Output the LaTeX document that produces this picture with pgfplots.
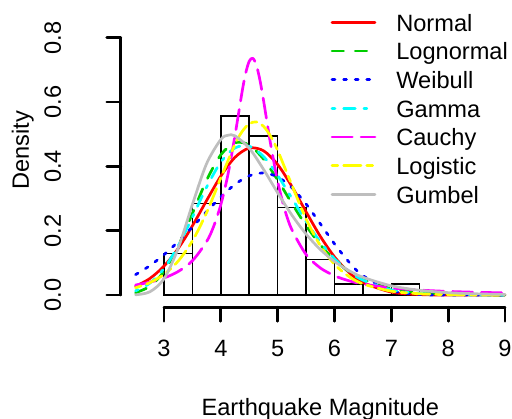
\documentclass[border=0pt]{standalone}
\usepackage{fontspec}
\setmainfont{Liberation Sans}
\usepackage{pgfplots}
\pgfplotsset{compat=1.18}
\definecolor{rred}{RGB}{255,0,0}
\definecolor{rgreen}{RGB}{0,205,0}
\definecolor{rblue}{RGB}{0,0,255}
\definecolor{rcyan}{RGB}{0,255,255}
\definecolor{rmagenta}{RGB}{255,0,255}
\definecolor{ryellow}{RGB}{255,255,0}
\definecolor{rgray}{RGB}{190,190,190}
\tikzset{
  rline/.style={line width=2.7bp, line cap=round, line join=round},
}
\begin{document}
\begin{tikzpicture}[font=\fontsize{23.6bp}{28bp}\selectfont]
\begin{axis}[
  scale only axis,
  width=391.0bp, height=301.7bp,
  xmin=2.24, xmax=9.12,
  ymin=-0.038, ymax=0.9,
  clip mode=individual,
  axis lines*=left,
  axis line style={draw=none},
  tick align=outside,
  major tick length=14bp,
  tick style={black, line width=2.7bp, line cap=round},
  xtick={3,4,5,6,7,8,9},
  xticklabels={3,4,5,6,7,8,9},
  ytick={0,0.2,0.4,0.6,0.8},
  yticklabels={0.0,0.2,0.4,0.6,0.8},
  xticklabel style={anchor=base},
  xticklabel shift=34.7bp,
  yticklabel style={xshift=-17bp, rotate=90, anchor=base},
  yticklabel shift=29bp,
  xlabel={Earthquake Magnitude},
  every axis x label/.style={at={([yshift=-108.5bp]axis cs:5.75,-0.038)}, anchor=base},
  ylabel={Density},
  every axis y label/.style={at={([xshift=-92bp]axis cs:2.24,0.451)}, rotate=90, anchor=base},
  legend style={draw=none, fill=none, at={(axis cs:5.933,0.8734)}, anchor=north west,
    inner sep=0pt, outer sep=0pt, row sep=6.7bp, column sep=0pt,
    nodes={inner sep=0pt, text height=17bp, text depth=5bp}},
  legend cell align=left,
  legend image code/.code={\draw[#1] (0bp,3bp) -- (43bp,3bp); \path[draw=none] (0bp,3bp) -- (64.3bp,3bp);},
]
% histogram (density scale, bin width 0.5)
\addplot[ybar interval, draw=black, fill=none, line width=1.5bp, forget plot] coordinates {
  (3,0.130) (3.5,0.285) (4,0.557) (4.5,0.495) (5,0.272) (5.5,0.111) (6,0.035) (6.5,0) (7,0.035) (7.5,0)
};
% fitted densities
\addplot[rline, rred, smooth] coordinates {
  (2.5,0.0271) (2.75,0.0514) (3,0.0900) (3.25,0.1450) (3.5,0.2153) (3.75,0.2940) (4,0.3699) (4.25,0.4285)
  (4.5,0.4571) (4.75,0.4488) (5,0.4058) (5.25,0.3378) (5.5,0.2589) (5.75,0.1828) (6,0.1188) (6.25,0.0711)
  (6.5,0.0392) (7,0.0093) (7.5,0.0016) (8,0.0002) (8.5,0.0000) (9,0.0000)
};
\addlegendentry{Normal}
\addplot[rline, rgreen, smooth, dash pattern=on 11.6bp off 11.6bp] coordinates {
  (2.5,0.0073) (2.75,0.0273) (3,0.0735) (3.25,0.1519) (3.5,0.2538) (3.75,0.3571) (4,0.4361) (4.25,0.4737)
  (4.5,0.4666) (4.75,0.4232) (5,0.3579) (5.25,0.2853) (5.5,0.2161) (5.75,0.1567) (6,0.1094) (6.25,0.0739)
  (6.5,0.0486) (7,0.0196) (7.5,0.0073) (8,0.0026) (8.5,0.0009) (9,0.0003)
};
\addlegendentry{Lognormal}
\addplot[rline, rblue, smooth, dash pattern=on 2.9bp off 8.7bp] coordinates {
  (2.5,0.0636) (2.75,0.0913) (3,0.1256) (3.25,0.1661) (3.5,0.2116) (3.75,0.2593) (4,0.3052) (4.25,0.3443)
  (4.5,0.3708) (4.75,0.3796) (5,0.3674) (5.25,0.3340) (5.5,0.2831) (5.75,0.2218) (6,0.1593) (6.25,0.1037)
  (6.5,0.0605) (7,0.0141) (7.5,0.0018) (8,0.0001) (8.5,0) (9,0)
};
\addlegendentry{Weibull}
\addplot[rline, rcyan, smooth, dash pattern=on 2.9bp off 8.7bp on 11.6bp off 8.7bp] coordinates {
  (2.5,0.0132) (2.75,0.0369) (3,0.0824) (3.25,0.1533) (3.5,0.2424) (3.75,0.3358) (4,0.4135) (4.25,0.4575)
  (4.5,0.4629) (4.75,0.4311) (5,0.3721) (5.25,0.3011) (5.5,0.2291) (5.75,0.1653) (6,0.1131) (6.25,0.0742)
  (6.5,0.0465) (7,0.0163) (7.5,0.0050) (8,0.0014) (8.5,0.0003) (9,0.0001)
};
\addlegendentry{Gamma}
\addplot[rline, rmagenta, smooth, dash pattern=on 20.3bp off 8.7bp] coordinates {
  (2.5,0.0313) (2.75,0.0401) (3,0.0531) (3.25,0.0733) (3.5,0.1067) (3.75,0.1663) (3.875,0.2141) (4,0.2811)
  (4.125,0.3744) (4.25,0.4971) (4.375,0.6329) (4.4375,0.6900) (4.5,0.7271) (4.5625,0.7362) (4.625,0.7152)
  (4.6875,0.6690) (4.75,0.6068) (4.8125,0.5381) (4.875,0.4705) (5,0.3534) (5.125,0.2658) (5.25,0.2033)
  (5.5,0.1262) (5.75,0.0845) (6,0.0601) (6.25,0.0447) (6.5,0.0345) (7,0.0222) (7.5,0.0155) (8,0.0114)
  (8.5,0.0087) (9,0.0069)
};
\addlegendentry{Cauchy}
\addplot[rline, ryellow, smooth, dash pattern=on 5.8bp off 5.8bp on 17.4bp off 5.8bp] coordinates {
  (2.5,0.0228) (2.75,0.0386) (3,0.0644) (3.25,0.1057) (3.5,0.1683) (3.75,0.2564) (4,0.3641) (4.25,0.4689)
  (4.375,0.5084) (4.5,0.5326) (4.625,0.5384) (4.75,0.5250) (4.875,0.4942) (5,0.4499) (5.25,0.3418)
  (5.5,0.2367) (5.75,0.1539) (6,0.0958) (6.25,0.0582) (6.5,0.0347) (7,0.0122) (7.5,0.0042) (8,0.0014)
  (8.5,0.0005) (9,0.0002)
};
\addlegendentry{Logistic}
\addplot[rline, rgray, smooth] coordinates {
  (2.5,0.0009) (2.75,0.0100) (3,0.0505) (3.25,0.1458) (3.5,0.2818) (3.75,0.4088) (4,0.4838) (4.125,0.4969)
  (4.25,0.4950) (4.5,0.4566) (4.75,0.3912) (5,0.3179) (5.25,0.2488) (5.5,0.1897) (5.75,0.1418) (6,0.1045)
  (6.25,0.0764) (6.5,0.0554) (7,0.0288) (7.5,0.0148) (8,0.0076) (8.5,0.0039) (9,0.0020)
};
\addlegendentry{Gumbel}
% R-style axis lines spanning the first to the last tick
\draw[black, line width=2.7bp, line cap=round] (axis cs:3,-0.038) -- (axis cs:9,-0.038);
\draw[black, line width=2.7bp, line cap=round] (axis cs:2.24,0) -- (axis cs:2.24,0.8);
\end{axis}
\pgfresetboundingbox
\path[use as bounding box] (-120.8bp,-111.7bp) rectangle (391.2bp,307.3bp);
\end{tikzpicture}
\end{document}
